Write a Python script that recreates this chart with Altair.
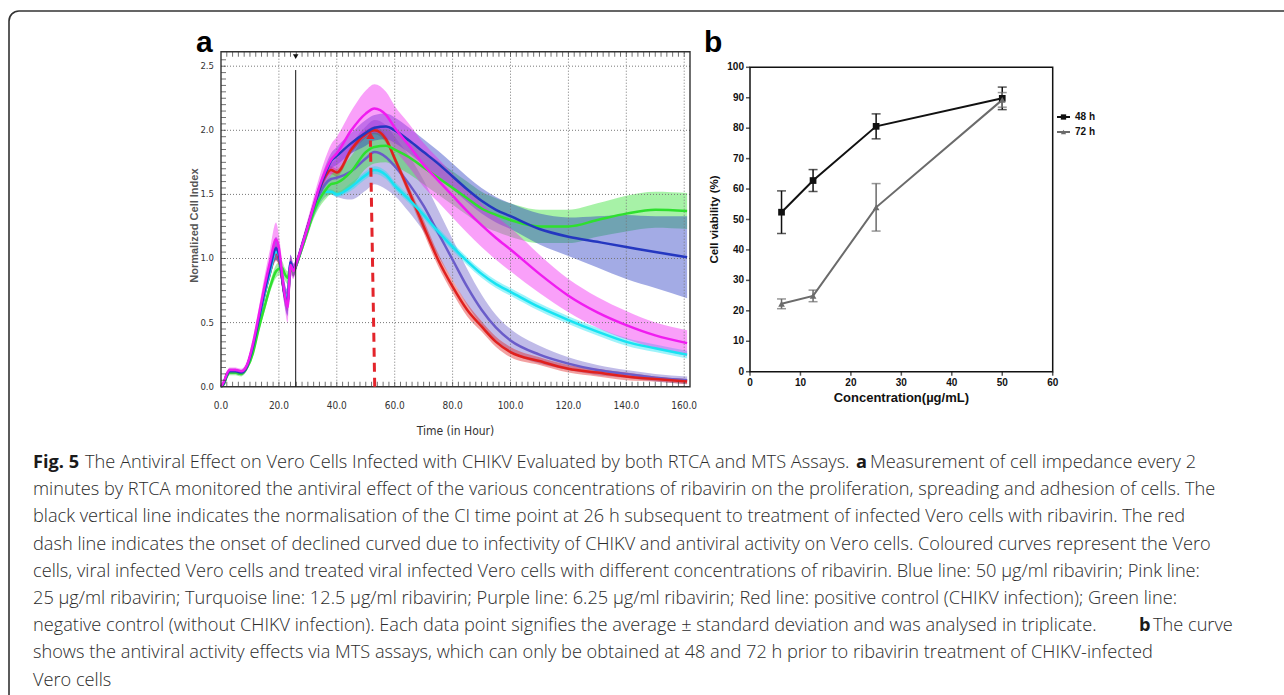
import altair as alt
import pandas as pd

# ---------------- panel a : RTCA normalised cell index ----------------
hours = [0, 1, 2, 3, 5, 7, 9, 11, 13, 15, 17, 19, 20, 21, 22, 23, 24, 25, 26,
         28, 30, 32, 34, 36, 38, 40,
         45, 50, 53, 57, 60, 65, 70, 75, 80, 85, 90, 95, 100, 110, 120, 130, 140, 150, 161]

ci_blue = [0.0, 0.03, 0.09, 0.12, 0.12, 0.11, 0.16, 0.31, 0.52, 0.74, 0.93, 1.08, 1.03, 0.87, 0.72, 0.66, 0.97, 0.91, 0.96,
           1.1, 1.25, 1.4, 1.54, 1.66, 1.76, 1.8,
           1.9, 1.98, 2.02, 2.03, 2.0, 1.92, 1.83, 1.74, 1.64, 1.54, 1.45, 1.38, 1.33, 1.23, 1.17, 1.13, 1.09, 1.05, 1.01]
ci_pink = [0.0, 0.04, 0.1, 0.13, 0.13, 0.12, 0.17, 0.33, 0.55, 0.78, 0.98, 1.15, 1.08, 0.9, 0.72, 0.62, 0.95, 0.9, 0.96,
           1.1, 1.25, 1.41, 1.56, 1.68, 1.77, 1.82,
           2.0, 2.13, 2.17, 2.12, 2.02, 1.88, 1.73, 1.61, 1.49, 1.37, 1.26, 1.16, 1.07, 0.88, 0.71, 0.58, 0.48, 0.40, 0.34]
ci_cyan = [0.0, 0.03, 0.09, 0.12, 0.12, 0.11, 0.16, 0.3, 0.5, 0.72, 0.9, 1.05, 1.02, 0.88, 0.74, 0.68, 0.96, 0.9, 0.95,
           1.1, 1.24, 1.36, 1.46, 1.52, 1.52, 1.5,
           1.56, 1.65, 1.69, 1.65, 1.57, 1.46, 1.34, 1.21, 1.09, 0.98, 0.88, 0.8, 0.74, 0.62, 0.52, 0.43, 0.35, 0.30, 0.25]
ci_purple = [0.0, 0.03, 0.09, 0.12, 0.12, 0.11, 0.16, 0.31, 0.51, 0.73, 0.92, 1.07, 1.03, 0.86, 0.71, 0.64, 0.97, 0.9, 0.95,
             1.1, 1.25, 1.38, 1.5, 1.58, 1.62, 1.63,
             1.68, 1.78, 1.83, 1.79, 1.72, 1.58, 1.41, 1.2, 0.99, 0.78, 0.6, 0.46, 0.36, 0.25, 0.18, 0.13, 0.10, 0.07, 0.05]
ci_red = [0.0, 0.03, 0.09, 0.12, 0.12, 0.11, 0.16, 0.3, 0.5, 0.72, 0.9, 1.04, 1.0, 0.86, 0.72, 0.66, 0.95, 0.9, 0.95,
          1.1, 1.25, 1.4, 1.54, 1.64, 1.69, 1.67,
          1.85, 1.97, 2.0, 1.93, 1.78, 1.52, 1.25, 0.99, 0.78, 0.6, 0.47, 0.35, 0.27, 0.2, 0.14, 0.11, 0.08, 0.06, 0.04]
ci_green = [0.0, 0.02, 0.08, 0.11, 0.11, 0.1, 0.15, 0.26, 0.45, 0.62, 0.78, 0.9, 0.92, 0.93, 0.88, 0.85, 0.92, 0.9, 0.95,
            1.08, 1.22, 1.36, 1.46, 1.53, 1.58, 1.59,
            1.68, 1.83, 1.87, 1.88, 1.85, 1.79, 1.71, 1.63, 1.55, 1.47, 1.39, 1.34, 1.30, 1.25, 1.25, 1.30, 1.35, 1.38, 1.37]

sd_blue = [0, 0.01, 0.02, 0.02, 0.02, 0.02, 0.03, 0.04, 0.05, 0.06, 0.07, 0.09, 0.08, 0.08, 0.08, 0.1, 0.06, 0.05, 0.04,
           0.04, 0.04, 0.05, 0.05, 0.06, 0.06, 0.07,
           0.08, 0.1, 0.1, 0.1, 0.1, 0.1, 0.1, 0.1, 0.1, 0.1, 0.1, 0.1, 0.1, 0.12, 0.15, 0.2, 0.25, 0.28, 0.32]
sd_pink = [0, 0.01, 0.02, 0.02, 0.02, 0.02, 0.03, 0.05, 0.06, 0.08, 0.1, 0.13, 0.1, 0.1, 0.1, 0.12, 0.08, 0.06, 0.04,
           0.05, 0.06, 0.07, 0.08, 0.1, 0.12, 0.13,
           0.15, 0.18, 0.19, 0.18, 0.17, 0.17, 0.17, 0.17, 0.17, 0.17, 0.17, 0.17, 0.17, 0.15, 0.13, 0.12, 0.11, 0.1, 0.1]
sd_cyan = [0, 0.01, 0.01, 0.01, 0.01, 0.01, 0.02, 0.02, 0.02, 0.02, 0.02, 0.03, 0.03, 0.03, 0.03, 0.03, 0.03, 0.02, 0.02,
           0.02, 0.02, 0.02, 0.02, 0.02, 0.02, 0.02,
           0.03, 0.03, 0.03, 0.03, 0.03, 0.03, 0.03, 0.03, 0.03, 0.03, 0.03, 0.03, 0.03, 0.03, 0.03, 0.03, 0.03, 0.03, 0.03]
sd_purple = [0, 0.01, 0.02, 0.02, 0.02, 0.02, 0.03, 0.04, 0.05, 0.06, 0.07, 0.08, 0.08, 0.08, 0.08, 0.09, 0.06, 0.05, 0.04,
             0.04, 0.05, 0.06, 0.08, 0.1, 0.12, 0.15,
             0.22, 0.25, 0.25, 0.25, 0.23, 0.22, 0.2, 0.18, 0.16, 0.14, 0.12, 0.1, 0.09, 0.07, 0.05, 0.04, 0.03, 0.03, 0.03]
sd_red = [0, 0.01, 0.01, 0.01, 0.01, 0.01, 0.02, 0.03, 0.03, 0.04, 0.05, 0.06, 0.06, 0.06, 0.06, 0.07, 0.05, 0.04, 0.03,
          0.03, 0.03, 0.03, 0.03, 0.03, 0.03, 0.03,
          0.03, 0.03, 0.03, 0.03, 0.03, 0.04, 0.05, 0.05, 0.05, 0.05, 0.04, 0.04, 0.04, 0.03, 0.03, 0.03, 0.03, 0.02, 0.02]
sd_green = [0, 0.01, 0.02, 0.02, 0.02, 0.02, 0.02, 0.03, 0.03, 0.04, 0.04, 0.05, 0.05, 0.05, 0.05, 0.05, 0.04, 0.04, 0.03,
            0.03, 0.04, 0.05, 0.06, 0.07, 0.08, 0.09,
            0.12, 0.13, 0.13, 0.13, 0.13, 0.13, 0.13, 0.13, 0.13, 0.13, 0.13, 0.13, 0.13, 0.13, 0.13, 0.13, 0.14, 0.14, 0.14]

a_series = ["6.25 µg/ml", "Positive control", "12.5 µg/ml", "Negative control", "50 µg/ml", "25 µg/ml"]
a_values = [ci_purple, ci_red, ci_cyan, ci_green, ci_blue, ci_pink]
a_sds = [sd_purple, sd_red, sd_cyan, sd_green, sd_blue, sd_pink]
a_colors = ["#6a5cc9", "#e0201e", "#18e3f2", "#2ee02e", "#2437c0", "#f01cf0"]
a_widths = [2.5, 2.5, 3.5, 3, 2.5, 4.5]

a_xticks = [0, 20, 40, 60, 80, 100, 120, 140, 160]
a_xlabels = ["0.0", "20.0", "40.0", "60.0", "80.0", "100.0", "120.0", "140.0", "160.0"]
a_yticks = [0.0, 0.5, 1.0, 1.5, 2.0, 2.5]
a_ylabels = ["0.0", "0.5", "1.0", "1.5", "2.0", "2.5"]
a_minor_x = [2 * i for i in range(1, 81)]
a_minor_y = [round(0.05 * i, 2) for i in range(1, 52)]
a_xtitle = "Time (in Hour)"
a_ytitle = "Normalized Cell Index"
T_MAX, CI_MAX = 162, 2.613
norm_time = 25.8
arrow = {"t0": [53.1], "t1": [51.6], "v0": [0.0], "v1": [1.92], "tip": [1.96]}

# ---------------- panel b : MTS ----------------
conc = [6.25, 12.5, 25, 50]
b_series = ["48 h", "72 h"]
via_48 = [52.4, 62.8, 80.6, 89.8]
sd_48 = [7.0, 3.6, 4.1, 3.7]
via_72 = [22.3, 24.9, 54.0, 89.3]
sd_72 = [1.6, 1.9, 7.8, 2.4]
b_xticks = [0, 10, 20, 30, 40, 50, 60]
b_yticks = [0, 10, 20, 30, 40, 50, 60, 70, 80, 90, 100]
b_xtitle = "Concentration(µg/mL)"
b_ytitle = "Cell viability (%)"

caption_segments = [
    (0, "Fig. 5", True),
    (0, "The Antiviral Effect on Vero Cells Infected with CHIKV Evaluated by both RTCA and MTS Assays.", False),
    (0, "a", True),
    (0, "Measurement of cell impedance every 2", False),
    (1, "minutes by RTCA monitored the antiviral effect of the various concentrations of ribavirin on the proliferation, spreading and adhesion of cells. The", False),
    (2, "black vertical line indicates the normalisation of the CI time point at 26 h subsequent to treatment of infected Vero cells with ribavirin. The red", False),
    (3, "dash line indicates the onset of declined curved due to infectivity of CHIKV and antiviral activity on Vero cells. Coloured curves represent the Vero", False),
    (4, "cells, viral infected Vero cells and treated viral infected Vero cells with different concentrations of ribavirin. Blue line: 50 µg/ml ribavirin; Pink line:", False),
    (5, "25 µg/ml ribavirin; Turquoise line: 12.5 µg/ml ribavirin; Purple line: 6.25 µg/ml ribavirin; Red line: positive control (CHIKV infection); Green line:", False),
    (6, "negative control (without CHIKV infection). Each data point signifies the average ± standard deviation and was analysed in triplicate.", False),
    (6, "b", True),
    (6, "The curve", False),
    (7, "shows the antiviral activity effects via MTS assays, which can only be obtained at 48 and 72 h prior to ribavirin treatment of CHIKV-infected", False),
    (8, "Vero cells", False),
]
# layout (pixel) start of each caption segment, same order as above
caption_x = [33, 85, 856, 870, 33, 33, 33, 33, 33, 33, 1139, 1153, 33, 33]

# ---------------- styling ----------------
W, H = 1284, 695
NARROW = "Liberation Sans Narrow, DejaVu Sans Condensed, Liberation Sans, sans-serif"
ARIAL = "Liberation Sans, Arial, sans-serif"
CAP_FONT = "Open Sans, Lato, sans-serif"
CAP_SIZE = 18.2

A_LEFT, A_RIGHT, A_TOP, A_BOTTOM = 221, 690, 51.7, 386.7
B_LEFT, B_RIGHT, B_TOP, B_BOTTOM = 750, 1052.7, 67.3, 371.7

xa = alt.Scale(domain=[0, T_MAX], range=[A_LEFT, A_RIGHT], nice=False, zero=False)
ya = alt.Scale(domain=[0, CI_MAX], range=[A_BOTTOM, A_TOP], nice=False, zero=False)
a_color = alt.Scale(domain=a_series, range=a_colors)

rows = []
for name, vals, sds in zip(a_series, a_values, a_sds):
    for t, v, s in zip(hours, vals, sds):
        rows.append({"series": name, "t": t, "ci": v, "lo": max(v - s, 0.0), "hi": v + s})
a_df = pd.DataFrame(rows)
one = pd.DataFrame({"k": [0]})

AX = lambda f: alt.X(f, scale=xa, axis=None)
AY = lambda f: alt.Y(f, scale=ya, axis=None)

bands = alt.Chart(a_df).mark_area(interpolate="monotone", fillOpacity=0.42).encode(
    x=AX("t:Q"), y=AY("lo:Q"), y2="hi:Q",
    color=alt.Color("series:N", scale=a_color, legend=None),
)

grid_x = alt.Chart(pd.DataFrame({"t": a_xticks[1:]})).mark_rule(
    strokeDash=[1, 2], color="#777", strokeWidth=1).encode(
    x=AX("t:Q"), y=alt.YDatum(0, axis=None), y2=alt.Y2Datum(CI_MAX))
grid_y = alt.Chart(pd.DataFrame({"v": a_yticks[1:]})).mark_rule(
    strokeDash=[1, 2], color="#777", strokeWidth=1).encode(
    y=AY("v:Q"), x=alt.XDatum(0, axis=None), x2=alt.X2Datum(T_MAX))

lines = alt.Chart(a_df).mark_line(interpolate="monotone").encode(
    x=AX("t:Q"), y=AY("ci:Q"),
    color=alt.Color("series:N", scale=a_color, legend=None),
    strokeWidth=alt.StrokeWidth("series:N", scale=alt.Scale(domain=a_series, range=a_widths), legend=None),
)

tick_bottom = alt.Chart(pd.DataFrame({"t": a_minor_x})).mark_tick(
    orient="vertical", size=5, thickness=1, yOffset=-2.5, color="#333").encode(
    x=AX("t:Q"), y=alt.YDatum(0, axis=None))
tick_top = alt.Chart(pd.DataFrame({"t": a_minor_x})).mark_tick(
    orient="vertical", size=5, thickness=1, yOffset=2.5, color="#333").encode(
    x=AX("t:Q"), y=alt.YDatum(CI_MAX, axis=None))
tick_left = alt.Chart(pd.DataFrame({"v": a_minor_y})).mark_tick(
    orient="horizontal", size=5, thickness=1, xOffset=2.5, color="#333").encode(
    y=AY("v:Q"), x=alt.XDatum(0, axis=None))

frame_a = alt.Chart(one).mark_rect(fillOpacity=0, stroke="#333", strokeWidth=1.4).encode(
    x=alt.XDatum(0, axis=None), x2=alt.X2Datum(T_MAX),
    y=alt.YDatum(0, axis=None), y2=alt.Y2Datum(CI_MAX))

norm_line = alt.Chart(one).mark_rule(color="#111", strokeWidth=1).encode(
    x=alt.XDatum(norm_time, axis=None), y=alt.YDatum(0, axis=None), y2=alt.Y2Datum(2.47))
norm_mark = alt.Chart(one).mark_point(shape="triangle-down", filled=True, size=30,
                                      color="#111", opacity=1, yOffset=5).encode(
    x=alt.XDatum(norm_time, axis=None), y=alt.YDatum(CI_MAX, axis=None))

arrow_df = pd.DataFrame(arrow)
arrow_line = alt.Chart(arrow_df).mark_rule(color="#e3242b", strokeWidth=3, strokeDash=[9, 6]).encode(
    x=AX("t0:Q"), x2="t1:Q", y=AY("v0:Q"), y2="v1:Q")
arrow_head = alt.Chart(arrow_df).mark_point(shape="triangle-up", filled=True, size=70,
                                            color="#e3242b", opacity=1).encode(
    x=AX("t1:Q"), y=AY("tip:Q"))

# axis labels and titles of panel a (text through the panel's scales)
a_xlab = alt.Chart(pd.DataFrame({"t": a_xticks, "lab": a_xlabels})).mark_text(
    font=NARROW, fontSize=10, color="#333", baseline="middle", dy=19.5).encode(
    x=AX("t:Q"), y=alt.YDatum(0, axis=None), text="lab:N")
a_ylab = alt.Chart(pd.DataFrame({"v": a_yticks, "lab": a_ylabels})).mark_text(
    font=NARROW, fontSize=9.5, color="#333", baseline="middle", align="right", dx=-7).encode(
    y=AY("v:Q"), x=alt.XDatum(0, axis=None), text="lab:N")
a_xtit = alt.Chart(one).mark_text(font=NARROW, fontSize=12, color="#333", baseline="middle", dy=44).encode(
    x=alt.XDatum(T_MAX / 2, axis=None), y=alt.YDatum(0, axis=None), text=alt.value(a_xtitle))
# rotated text: dy moves it horizontally (negative = left)
a_ytit = alt.Chart(one).mark_text(font=ARIAL, fontSize=11, fontWeight="bold", color="#555",
                                  baseline="middle", angle=270, dy=-26).encode(
    x=alt.XDatum(0, axis=None), y=alt.YDatum(CI_MAX / 2 - 0.05, axis=None), text=alt.value(a_ytitle))

panel_a = alt.layer(bands, grid_x, grid_y, lines, tick_bottom, tick_top, tick_left,
                    frame_a, norm_line, norm_mark, arrow_line, arrow_head,
                    a_xlab, a_ylab, a_xtit, a_ytit)

# ---------------- panel b ----------------
xb = alt.Scale(domain=[0, 60], range=[B_LEFT, B_RIGHT], nice=False, zero=False)
yb = alt.Scale(domain=[0, 100], range=[B_BOTTOM, B_TOP], nice=False, zero=False)
b_color = alt.Scale(domain=b_series, range=["#111111", "#6b6b6b"])
b_bar_color = alt.Scale(domain=b_series, range=["#111111", "#2a2a2a"])
b_shape = alt.Scale(domain=b_series, range=["square", "triangle-up"])
BX = lambda f: alt.X(f, scale=xb, axis=None)
BY = lambda f: alt.Y(f, scale=yb, axis=None)

brows = []
for name, vals, sds in zip(b_series, [via_48, via_72], [sd_48, sd_72]):
    for c, v, s in zip(conc, vals, sds):
        brows.append({"series": name, "conc": c, "via": v, "lo": v - s, "hi": v + s})
b_df = pd.DataFrame(brows)

frame_b = alt.Chart(one).mark_rect(fillOpacity=0, stroke="#111", strokeWidth=1.5).encode(
    x=alt.XDatum(0, axis=None), x2=alt.X2Datum(60),
    y=alt.YDatum(0, axis=None), y2=alt.Y2Datum(100))

b_lines = alt.Chart(b_df).mark_line(strokeWidth=2).encode(
    x=BX("conc:Q"), y=BY("via:Q"),
    color=alt.Color("series:N", scale=b_color, legend=None))
b_err = alt.Chart(b_df).mark_rule(strokeWidth=1.5).encode(
    x=BX("conc:Q"), y=BY("lo:Q"), y2="hi:Q",
    color=alt.Color("series:N", scale=b_bar_color, legend=None))
b_cap_lo = alt.Chart(b_df).mark_tick(orient="horizontal", size=9, thickness=1.5).encode(
    x=BX("conc:Q"), y=BY("lo:Q"),
    color=alt.Color("series:N", scale=b_bar_color, legend=None))
b_cap_hi = alt.Chart(b_df).mark_tick(orient="horizontal", size=9, thickness=1.5).encode(
    x=BX("conc:Q"), y=BY("hi:Q"),
    color=alt.Color("series:N", scale=b_bar_color, legend=None))
b_points = alt.Chart(b_df).mark_point(filled=True, size=45, opacity=1).encode(
    x=BX("conc:Q"), y=BY("via:Q"),
    color=alt.Color("series:N", scale=b_bar_color, legend=None),
    shape=alt.Shape("series:N", scale=b_shape, legend=None))

b_xt = pd.DataFrame({"c": b_xticks, "lab": [str(v) for v in b_xticks]})
b_yt = pd.DataFrame({"v": b_yticks, "lab": [str(v) for v in b_yticks]})
b_xtick = alt.Chart(b_xt).mark_tick(orient="vertical", size=4, thickness=1.5, yOffset=2, color="#111").encode(
    x=BX("c:Q"), y=alt.YDatum(0, axis=None))
b_ytick = alt.Chart(b_yt).mark_tick(orient="horizontal", size=4, thickness=1.5, xOffset=-2, color="#111").encode(
    y=BY("v:Q"), x=alt.XDatum(0, axis=None))
b_xlab = alt.Chart(b_xt).mark_text(font=ARIAL, fontWeight="bold", fontSize=10, color="#111",
                                   baseline="middle", dy=11).encode(
    x=BX("c:Q"), y=alt.YDatum(0, axis=None), text="lab:N")
b_ylab = alt.Chart(b_yt).mark_text(font=ARIAL, fontWeight="bold", fontSize=10, color="#111",
                                   baseline="middle", align="right", dx=-6).encode(
    y=BY("v:Q"), x=alt.XDatum(0, axis=None), text="lab:N")
b_xtit = alt.Chart(one).mark_text(font=ARIAL, fontWeight="bold", fontSize=13, color="#111",
                                  baseline="middle", dy=26.5).encode(
    x=alt.XDatum(30, axis=None), y=alt.YDatum(0, axis=None), text=alt.value(b_xtitle))
b_ytit = alt.Chart(one).mark_text(font=ARIAL, fontWeight="bold", fontSize=11.5, color="#111",
                                  baseline="middle", angle=270, dy=-35).encode(
    x=alt.XDatum(0, axis=None), y=alt.YDatum(50, axis=None), text=alt.value(b_ytitle))

panel_b = alt.layer(frame_b, b_lines, b_err, b_cap_lo, b_cap_hi, b_points,
                    b_xtick, b_ytick, b_xlab, b_ylab, b_xtit, b_ytit)

# legend of panel b
leg_df = pd.DataFrame({"series": b_series})
leg_y = alt.Scale(type="point", domain=b_series, range=[117, 132], padding=0)
leg_rule = alt.Chart(leg_df).mark_rule(strokeWidth=2).encode(
    x=alt.value(1057), x2=alt.value(1070),
    y=alt.Y("series:N", scale=leg_y, axis=None),
    color=alt.Color("series:N", scale=b_color, legend=None))
leg_pt = alt.Chart(leg_df).mark_point(filled=True, size=28, opacity=1).encode(
    x=alt.value(1063.5), y=alt.Y("series:N", scale=leg_y, axis=None),
    color=alt.Color("series:N", scale=b_bar_color, legend=None),
    shape=alt.Shape("series:N", scale=b_shape, legend=None))
leg_txt = alt.Chart(leg_df).mark_text(align="left", baseline="middle", font=ARIAL,
                                      fontWeight="bold", fontSize=10, color="#111").encode(
    x=alt.value(1075), y=alt.Y("series:N", scale=leg_y, axis=None), text="series:N")
legend_b = alt.layer(leg_rule, leg_pt, leg_txt)

# panel letters
label_a = alt.Chart(one).mark_text(align="left", baseline="alphabetic", font=ARIAL,
                                   fontWeight="bold", fontSize=30, color="#000").encode(
    x=alt.value(196), y=alt.value(51.5), text=alt.value("a"))
label_b = alt.Chart(one).mark_text(align="left", baseline="alphabetic", font=ARIAL,
                                   fontWeight="bold", fontSize=30, color="#000").encode(
    x=alt.value(704), y=alt.value(51.5), text=alt.value("b"))

# caption
cap_df = pd.DataFrame({
    "line": [s[0] for s in caption_segments],
    "txt": [s[1] for s in caption_segments],
    "bold": [s[2] for s in caption_segments],
    "x": caption_x,
})
cap_y = alt.Scale(domain=[0, 8], range=[468, 685.5])
cap_x = alt.Scale(domain=[0, W], range=[0, W])
cap_reg = alt.Chart(cap_df).transform_filter("!datum.bold").mark_text(
    align="left", baseline="alphabetic", font=CAP_FONT, fontSize=CAP_SIZE, fontWeight=300, color="#2b2b2b").encode(
    x=alt.X("x:Q", scale=cap_x, axis=None), y=alt.Y("line:Q", scale=cap_y, axis=None), text="txt:N")
cap_bold = alt.Chart(cap_df).transform_filter("datum.bold").mark_text(
    align="left", baseline="alphabetic", font=CAP_FONT, fontSize=CAP_SIZE, fontWeight="bold", color="#1a1a1a").encode(
    x=alt.X("x:Q", scale=cap_x, axis=None), y=alt.Y("line:Q", scale=cap_y, axis=None), text="txt:N")
caption = alt.layer(cap_reg, cap_bold)

border = alt.Chart(one).mark_rect(fillOpacity=0, stroke="#333", strokeWidth=1.6, cornerRadius=10).encode(
    x=alt.value(9), x2=alt.value(1320), y=alt.value(11), y2=alt.value(740))

chart = alt.layer(border, panel_a, panel_b, legend_b, label_a, label_b, caption).resolve_scale(
    x="independent", y="independent", color="independent", shape="independent", strokeWidth="independent"
).properties(
    width=W, height=H, autosize=alt.AutoSizeParams(type="none"), padding=0, background="white"
).configure_view(strokeWidth=0)

chart.save("out.html", embed_options={"renderer": "svg", "actions": False})
